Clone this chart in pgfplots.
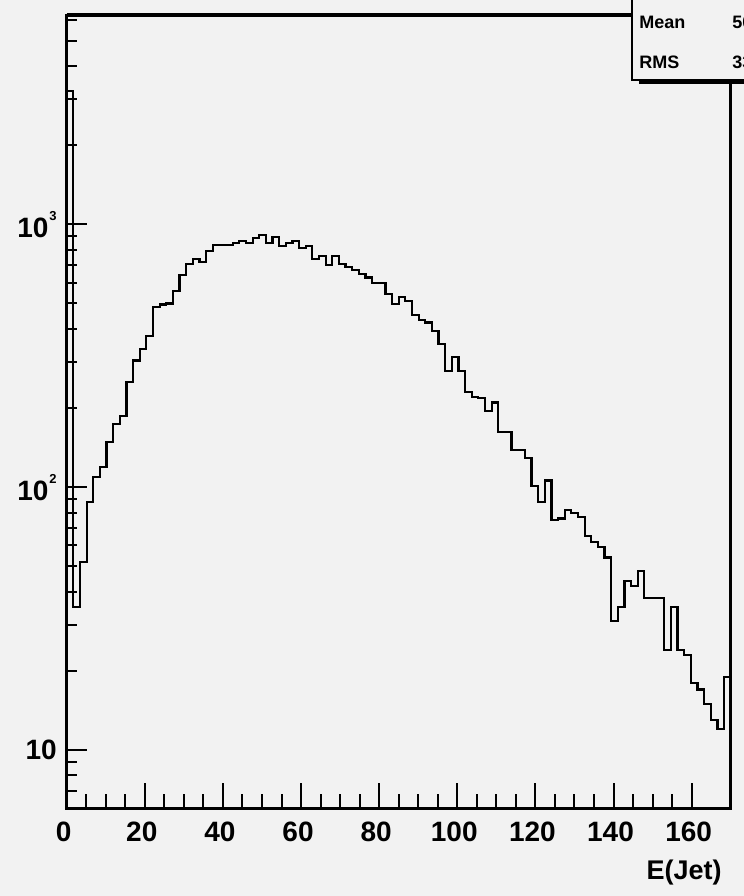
\documentclass[border=0pt]{standalone}
\usepackage{fontspec}
\setmainfont{Liberation Sans}
\usepackage{pgfplots}
\pgfplotsset{compat=1.18}
\usepackage{pgfplotstable}
\definecolor{bg}{HTML}{F2F2F2}

\pgfplotstableread{
x y
0 3222
1.7 35
3.4 52
5.1 88
6.8 109
8.5 119
10.2 148
11.9 174
13.6 187
15.3 252
17 303
18.7 335
20.4 375
22.1 486
23.8 495
25.5 500
27.2 557
28.9 641
30.6 705
32.3 738
34 719
35.7 791
37.4 832
39.1 832
40.8 834
42.5 851
44.2 866
45.9 847
47.6 888
49.3 912
51 847
52.7 892
54.4 827
56.1 851
57.8 866
59.5 810
61.2 829
62.9 740
64.6 758
66.3 700
68 758
69.7 705
71.4 690
73.1 670
74.8 647
76.5 628
78.2 599
79.9 599
81.6 542
83.3 498
85 530
86.7 511
88.4 452
90.1 433
91.8 423
93.5 393
95.2 350
96.9 277
98.6 312
100.3 277
102 230
103.7 221
105.4 219
107.1 195
108.8 210
110.5 162
112.2 162
113.9 138
115.6 138
117.3 129
119 101
120.7 88
122.4 106
124.1 75
125.8 76
127.5 82
129.2 80
130.9 77
132.6 65
134.3 62
136 59
137.7 54
139.4 31
141.1 35
142.8 44
144.5 42
146.2 48
147.9 38
149.6 38
151.3 38
153 24
154.7 35
156.4 24
158.1 23
159.8 18
161.5 17
163.2 15
164.9 13
166.6 12
168.3 19
170 19
}\histdata

\begin{document}
\begin{tikzpicture}
\useasboundingbox (0,0) rectangle (372pt,448pt);
\clip (0,0) rectangle (372pt,448pt);
\fill[bg] (0,0) rectangle (372pt,448pt);

\begin{axis}[
  at={(33.35pt,43.85pt)}, anchor=south west,
  width=332pt, height=396.5pt, scale only axis,
  xmin=0, xmax=170, ymin=6, ymax=6240, ymode=log,
  xtick={0,20,...,160}, minor x tick num=3,
  ymajorticks=false, yminorticks=false,
  xtick pos=left, tick align=inside,
  major tick length=12.5pt, minor tick length=7pt,
  every tick/.style={black, line width=1pt},
  axis line style={line width=1.3pt},
  /pgf/number format/assume math mode=true,
  xticklabel style={font=\fontsize{14}{14}\selectfont\bfseries, anchor=north, inner sep=0pt, yshift=-6.7pt, xshift=-1.5pt},
  xlabel={E(Jet)},
  xlabel style={at={(rel axis cs:1,0)}, anchor=base east, inner sep=0pt, font=\fontsize{13.5}{13.5}\selectfont\bfseries, yshift=-35.85pt, xshift=-4.3pt},
  clip=false,
]
\addplot[const plot, black, line width=1.1pt] table[x=x, y=y] {\histdata};
\end{axis}

\begin{axis}[
  at={(33.35pt,43.85pt)}, anchor=south west,
  width=332pt, height=396.5pt, scale only axis,
  xmin=0, xmax=170, ymin=6, ymax=6240, ymode=log,
  hide x axis, axis y line*=left,
  ytick={10,100,1000},
  yticklabels={10,{10\hspace{0.5pt}\raisebox{8.5pt}{\fontsize{6.5}{6.5}\selectfont 2}},{10\hspace{0.5pt}\raisebox{8.5pt}{\fontsize{6.5}{6.5}\selectfont 3}}},
  minor ytick={7,8,9,20,30,40,50,60,70,80,90,200,300,400,500,600,700,800,900,2000,3000,4000,5000,6000},
  tick align=inside,
  major tick length=10pt, minor tick length=5pt,
  every tick/.style={black, line width=1pt},
  axis line style={line width=1.3pt},
  yticklabel style={font=\fontsize{14}{14}\selectfont\bfseries, anchor=east, inner sep=0pt, xshift=-4.8pt},
]
\end{axis}

% thick top frame line
\draw[line width=2pt] (33.35pt,440.35pt) -- (316pt,440.35pt);

% statistics box (partly outside the picture)
\fill[bg] (316pt,408pt) rectangle (400pt,470pt);
\draw[line width=1pt] (316pt,470pt) -- (316pt,408pt) -- (400pt,408pt);
\fill[black] (319.5pt,406pt) rectangle (400pt,408pt);
\node[anchor=west, inner sep=0pt, font=\fontsize{9}{9}\selectfont\bfseries] at (319.5pt,436.75pt) {Mean};
\node[anchor=west, inner sep=0pt, font=\fontsize{9}{9}\selectfont\bfseries] at (319.5pt,417pt) {RMS};
\node[anchor=west, inner sep=0pt, font=\fontsize{9}{9}\selectfont\bfseries] at (366pt,436.75pt) {50};
\node[anchor=west, inner sep=0pt, font=\fontsize{9}{9}\selectfont\bfseries] at (366pt,417pt) {33};
\end{tikzpicture}
\end{document}
